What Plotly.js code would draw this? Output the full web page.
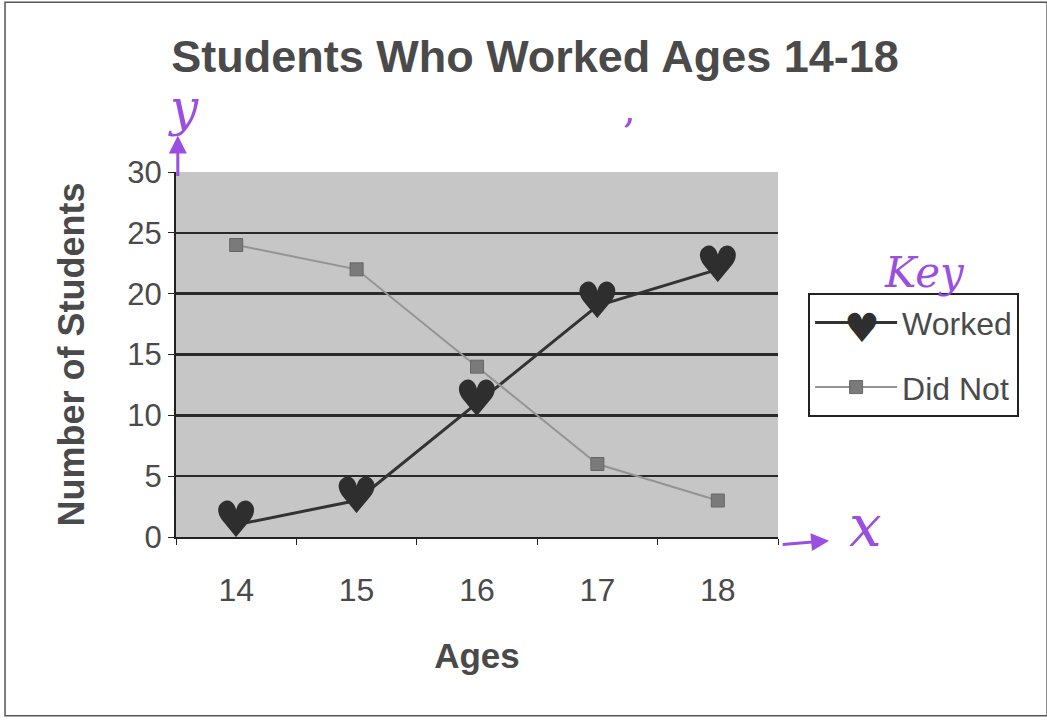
<!DOCTYPE html>
<html>
<head>
<meta charset="utf-8">
<script src="https://cdn.plot.ly/plotly-3.0.1.min.js"></script>
<style>html,body{margin:0;padding:0;background:#fff;}#chart{width:1047px;height:721px;}</style>
</head>
<body>
<div id="chart"></div>
<script>
const ages = ['14', '15', '16', '17', '18'];
const worked = [1, 3, 11, 19, 22];
const didNot = [24, 22, 14, 6, 3];
const seriesNames = ['Worked', 'Did Not'];

const narrow = '"Liberation Sans Narrow", "Arial Narrow", "Liberation Sans", Arial, sans-serif';
const textGray = '#4a4a4a';
const purple = '#9a4fe0';

const traces = [
  {
    x: ages, y: worked, name: seriesNames[0], type: 'scatter', mode: 'lines+text',
    legendgroup: 'a',
    text: ages.map(() => '♥'), textposition: 'middle center',
    textfont: {family: 'DejaVu Sans', size: 50, color: '#2e2e2e'},
    line: {color: '#333333', width: 3}
  },
  {
    x: ages, y: didNot, name: seriesNames[1], type: 'scatter', mode: 'lines+markers',
    legendgroup: 'b',
    line: {color: '#949494', width: 2},
    marker: {symbol: 'square', size: 13, color: '#7a7a7a', line: {color: '#666', width: 1}}
  }
];

const hand = (x, y, text, size) => ({
  xref: 'paper', yref: 'paper', x: x, y: y, xanchor: 'center', yanchor: 'middle',
  text: text, showarrow: false,
  font: {family: 'DejaVu Serif', size: size, color: purple}
});

const layout = {
  width: 1047, height: 721,
  margin: {l: 176, r: 269, t: 172, b: 184},
  paper_bgcolor: '#ffffff',
  plot_bgcolor: '#c6c6c6',
  title: {
    text: 'Students Who Worked Ages 14-18',
    font: {family: '"Liberation Sans", Arial, sans-serif', size: 45, color: textGray, weight: 'bold'},
    x: 0.511, xanchor: 'center', y: 0.922, yanchor: 'middle'
  },
  showlegend: true,
  legend: {
    x: 1.05, xanchor: 'left', y: 0.668, yanchor: 'top',
    bgcolor: '#ffffff', bordercolor: '#222', borderwidth: 2,
    font: {family: narrow, size: 32, color: textGray},
    itemwidth: 82, tracegroupgap: 20
  },
  xaxis: {
    type: 'category', range: [-0.5, 4.5],
    showgrid: false, zeroline: false,
    showline: true, linecolor: '#222', linewidth: 2,
    ticks: 'outside', tickson: 'boundaries', ticklen: 6, tickcolor: '#222',
    ticklabelstandoff: 24,
    tickfont: {family: narrow, size: 32, color: textGray},
    title: {text: 'Ages', font: {family: narrow, size: 35, color: textGray, weight: 'bold'}, standoff: 36}
  },
  yaxis: {
    range: [0, 30], dtick: 5, tick0: 0,
    showgrid: true, gridcolor: '#2a2a2a', gridwidth: 2.5,
    zeroline: false,
    showline: true, linecolor: '#222', linewidth: 2,
    ticks: 'outside', ticklen: 6, tickcolor: '#222',
    tickfont: {family: narrow, size: 31, color: textGray},
    title: {text: 'Number of Students', font: {family: narrow, size: 36, color: textGray, weight: 'bold'}, standoff: 32}
  },
  shapes: [
    {type: 'rect', xref: 'paper', yref: 'paper', x0: -0.284, x1: 1.447, y0: -0.49, y1: 1.465,
     line: {color: '#555', width: 1.5}}
  ],
  annotations: [
    hand(0.012, 1.175, '<i>y</i>', 50),
    {xref: 'paper', yref: 'paper', x: 0.003, y: 1.1, ax: 0, ay: 42, text: '', showarrow: true,
     arrowhead: 2, arrowsize: 1.2, arrowcolor: purple, arrowwidth: 3},
    hand(0.754, 1.175, ',', 40),
    {xref: 'paper', yref: 'paper', x: 1.085, y: -0.01, ax: -48, ay: 4, text: '', showarrow: true,
     arrowhead: 2, arrowsize: 1.2, arrowcolor: purple, arrowwidth: 3},
    hand(1.145, 0.03, '<i>x</i>', 58),
    hand(1.244, 0.726, '<i>Key</i>', 42),
    {xref: 'paper', yref: 'paper', x: 1.14, y: 0.573, xanchor: 'center', yanchor: 'middle',
     text: '♥', showarrow: false, font: {family: 'DejaVu Sans', size: 40, color: '#2e2e2e'}}
  ]
};

Plotly.newPlot('chart', traces, layout, {displayModeBar: false, staticPlot: true});
</script>
</body>
</html>
